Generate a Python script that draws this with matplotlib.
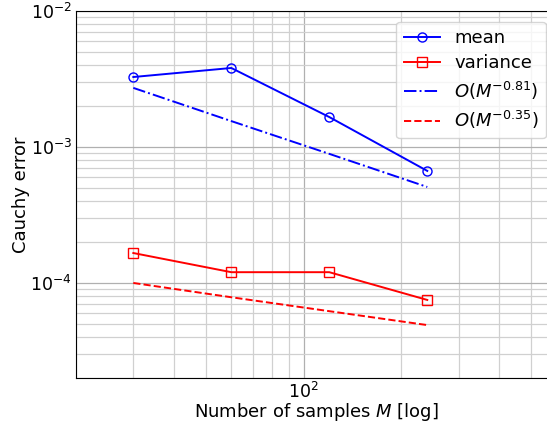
import matplotlib
matplotlib.use("Agg")
import matplotlib.pyplot as plt

M = [30, 60, 120, 240]
mean_err = [3.27e-3, 3.81e-3, 1.66e-3, 6.67e-4]
var_err = [1.66e-4, 1.20e-4, 1.20e-4, 7.5e-5]
ref_mean = [2.72e-3, 1.55e-3, 8.9e-4, 5.08e-4]
ref_var = [1.0e-4, 7.85e-5, 6.2e-5, 4.9e-5]

fig = plt.figure(figsize=(5.47, 4.26), dpi=100)
ax = fig.add_axes([76/547, 1-378/426, 480.8/547, (378-11)/426])

ax.plot(M, mean_err, color='blue', marker='o', mfc='none', ms=6.5, lw=1.4, label='mean')
ax.plot(M, var_err, color='red', marker='s', mfc='none', ms=7, lw=1.4, label='variance')
ax.plot(M, ref_mean, color='blue', ls='-.', lw=1.4, label=r'$O(M^{-0.81})$')
ax.plot(M, ref_var, color='red', ls='--', lw=1.4, label=r'$O(M^{-0.35})$')

ax.set_xscale('log')
ax.set_yscale('log')
ax.set_xlim(20, 600)
ax.set_ylim(2e-5, 1e-2)
ax.grid(True, which='major', color='#b0b0b0', lw=0.9)
ax.grid(True, which='minor', color='#d0d0d0', lw=0.9)
ax.set_axisbelow(True)
ax.tick_params(which='both', length=0, labelsize=12.5, pad=3)
ax.set_xlabel(r'Number of samples $M$ [log]', fontsize=13, labelpad=-1)
ax.set_ylabel('Cauchy error', fontsize=13, labelpad=0)
ax.legend(loc='upper right', fontsize=13, handlelength=2.0, borderaxespad=0.6,
          labelspacing=0.4)

fig.savefig('out.png', dpi=100)
